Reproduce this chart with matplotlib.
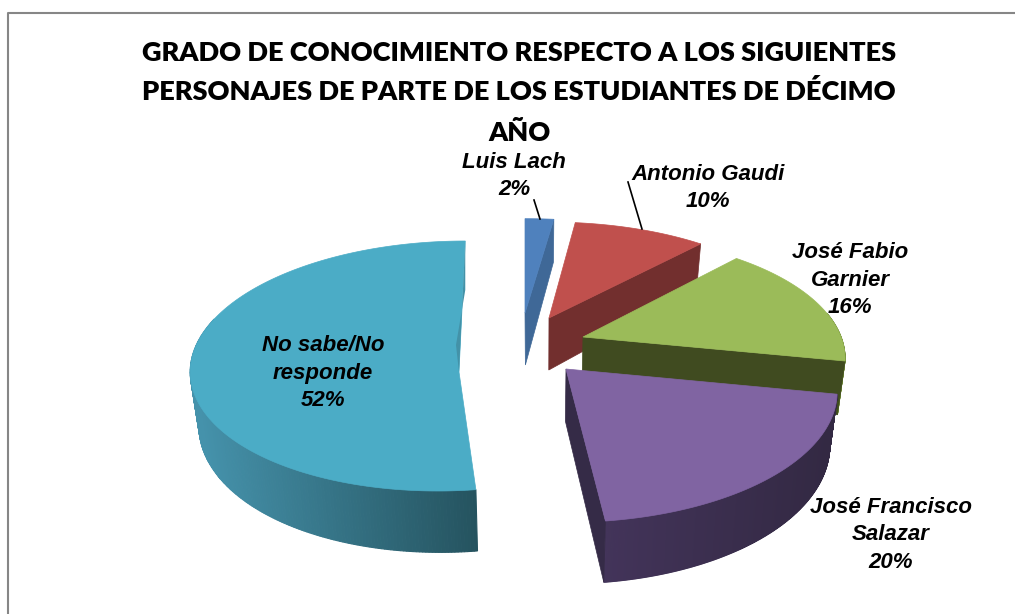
import numpy as np
import matplotlib
matplotlib.use('Agg')
import matplotlib.pyplot as plt
from matplotlib.colors import to_rgb

# --- data ---
names = ['Luis Lach', 'Antonio Gaudi', 'José Fabio\nGarnier', 'José Francisco\nSalazar', 'No sabe/No\nresponde']
percents = [2, 10, 16, 20, 52]
title_lines = ['GRADO DE CONOCIMIENTO RESPECTO A LOS SIGUIENTES',
               'PERSONAJES DE PARTE DE LOS ESTUDIANTES DE DÉCIMO',
               'AÑO']

# --- look of each slice ---
top_colors = ['#4F81BD', '#C0504D', '#9BBB59', '#8064A2', '#4BACC6']
cut_colors = ['#3F6897', '#722F2E', '#404B20', '#352B47', '#4392A8']
wall_left = ['#3F6897', '#722F2E', '#6F8A36', '#43345A', '#4592AB']
wall_right = ['#3F6897', '#722F2E', '#6F8A36', '#332943', '#25535F']

# exploded pie: arc centre, tip of the slice, radii in pixels
centres = [(525, 313), (549, 318), (583, 337), (566, 369), (454, 343.5)]
tips = [(525, 313), (549, 318), (583, 337), (566, 369), (459, 372)]
radii = [(280, 115), (255, 117), (258, 124), (267, 130), (257, 125)]
shears = [0, 0, 0, 0, -0.11]

persp = 0.18    # near side of the pie is bigger
depth = 52
squeeze = 0.975  # the underside is a little narrower
mid_x = 540

fig, ax = plt.subplots(figsize=(10.15, 6.14), dpi=100)
ax.set_position([0, 0, 1, 1])
ax.set_xlim(0, 1015)
ax.set_ylim(614, 0)
ax.axis('off')


def arc_point(i, theta):
    # theta runs clockwise from 12 o'clock
    s = 1 - persp * np.cos(theta)
    y = centres[i][1] - radii[i][1] * s * np.cos(theta)
    x = centres[i][0] + radii[i][0] * s * np.sin(theta) + shears[i] * (y - centres[i][1])
    return x, y, s


def under(x, y, s):
    return mid_x + (x - mid_x) * squeeze, y + depth * s


def draw_slice(i, start, end):
    thetas = np.linspace(start, end, 300)
    xs, ys, ss = arc_point(i, thetas)
    bx, by = under(xs, ys, ss)
    tx, ty = tips[i]
    c0 = np.array(to_rgb(wall_left[i]))
    c1 = np.array(to_rgb(wall_right[i]))

    # outer wall, shaded from left to right
    x_lo, x_hi = bx.min(), bx.max()
    for k in range(len(thetas) - 1):
        if np.cos(thetas[k]) > 0.2:
            continue
        f = (xs[k] - x_lo) / max(x_hi - x_lo, 1)
        col = c0 + (c1 - c0) * np.clip(f, 0, 1)
        ax.fill([xs[k], xs[k + 1], bx[k + 1], bx[k]], [ys[k], ys[k + 1], by[k + 1], by[k]],
                color=col, lw=0.8)

    # cut face on the end of the slice
    if i < 4:
        ubx, uby = under(tx, ty, 1.0)
        ax.fill([tx, xs[-1], bx[-1], ubx], [ty, ys[-1], by[-1], uby], color=cut_colors[i], lw=0.5)

    # top of the slice
    ax.fill(np.r_[tx, xs], np.r_[ty, ys], color=top_colors[i], lw=0.5)

    # the sliver seen on the big slice
    if i == 4:
        ax.fill([xs[-1], xs[-1], tx - 3, tx], [ys[-1], ys[-1] + 49, ty - 27, ty],
                color=cut_colors[i], lw=0)


edges = np.r_[0, np.cumsum(percents)] / sum(percents) * 2 * np.pi
for i in [0, 1, 4, 2, 3]:
    draw_slice(i, edges[i], edges[i + 1])

# frame of the chart, only left and top reach into the picture
ax.plot([8.5, 8.5, 1020], [640, 12.5, 12.5], color='#868686', lw=1.5)

# title
title_y = [53, 92, 133]
for line, y in zip(title_lines, title_y):
    ax.text(519, y, line, ha='center', va='center', fontsize=19.5, fontweight=800,
            family=['Lato', 'DejaVu Sans'], color='black')

# labels
label_xy = [(514, 176), (708, 188), (850, 280), (891, 535), (323, 373)]
for i in range(5):
    ax.text(label_xy[i][0], label_xy[i][1], f'{names[i]}\n{percents[i]}%', ha='center', va='center',
            fontsize=16, fontweight='bold', style='italic', family='Liberation Sans',
            linespacing=1.42, color='black')

# leader lines
ax.plot([534, 540], [200, 219], color='black', lw=1.2)
ax.plot([628, 642], [182, 229], color='black', lw=1.2)

fig.savefig('out.png', dpi=100)
